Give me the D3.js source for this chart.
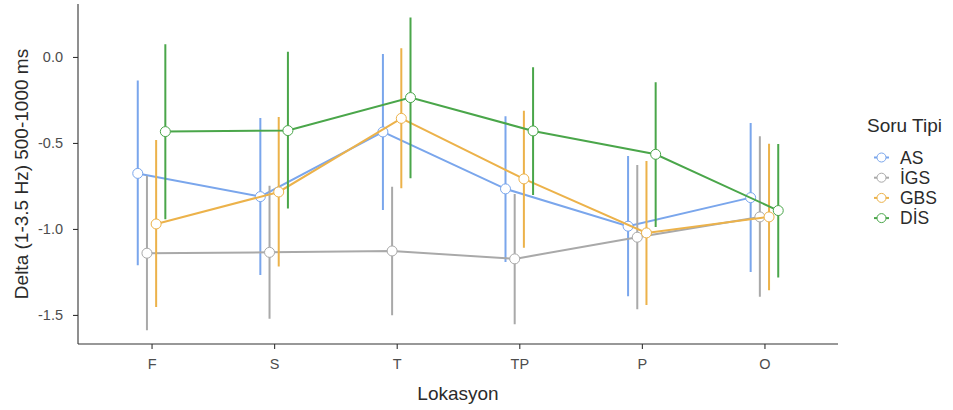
<!DOCTYPE html>
<html>
<head>
<meta charset="utf-8">
<script src="https://cdn.jsdelivr.net/npm/d3@7"></script>
<style>
  body { margin: 0; background: #fff; }
  svg { font-family: "Liberation Sans", Arial, sans-serif; }
</style>
</head>
<body>
<div id="chart"></div>
<script>
const width = 953, height = 410
const margin = {top: 4, right: 115, bottom: 66, left: 78}

const locations = ["F", "S", "T", "TP", "P", "O"]
const groups = ["AS", "İGS", "GBS", "DİS"]
const colors = ["#7aa6ec", "#a9a9a9", "#ecb24a", "#4aa64a"]

// mean per location, one array per group
const as_mean = [-0.677, -0.812, -0.436, -0.767, -0.984, -0.818]
const igs_mean = [-1.141, -1.136, -1.128, -1.174, -1.048, -0.930]
const gbs_mean = [-0.971, -0.785, -0.357, -0.709, -1.023, -0.930]
const dis_mean = [-0.434, -0.428, -0.236, -0.430, -0.566, -0.893]

// error bar top / bottom
const as_hi = [-0.143, -0.360, 0.012, -0.351, -0.581, -0.390]
const as_lo = [-1.205, -1.262, -0.884, -1.186, -1.386, -1.244]
const igs_hi = [-0.696, -0.754, -0.760, -0.802, -0.634, -0.467]
const igs_lo = [-1.583, -1.517, -1.496, -1.548, -1.461, -1.388]
const gbs_hi = [-0.488, -0.355, 0.045, -0.318, -0.610, -0.510]
const gbs_lo = [-1.448, -1.213, -0.758, -1.103, -1.436, -1.351]
const dis_hi = [0.068, 0.025, 0.223, -0.066, -0.153, -0.512]
const dis_lo = [-0.938, -0.876, -0.700, -0.797, -0.983, -1.277]

const yTicks = [0.0, -0.5, -1.0, -1.5]

const means = [as_mean, igs_mean, gbs_mean, dis_mean]
const his = [as_hi, igs_hi, gbs_hi, dis_hi]
const los = [as_lo, igs_lo, gbs_lo, dis_lo]

const series = groups.map((g, gi) => ({
    name: g,
    color: colors[gi],
    values: locations.map((loc, li) => ({
        loc: loc, mean: means[gi][li], hi: his[gi][li], lo: los[gi][li]
    }))
}))

const svg = d3.select("#chart").append("svg")
    .attr("width", width)
    .attr("height", height)

const pw = width - margin.left - margin.right
const ph = height - margin.top - margin.bottom

const x = d3.scalePoint()
    .domain(locations)
    .range([0, pw])
    .padding(0.6)

const dodge = d3.scaleBand()
    .domain(groups)
    .range([-x.step() * 0.15, x.step() * 0.15])

const y = d3.scaleLinear()
    .domain([-1.669, 0.308])
    .range([ph, 0])

const g = svg.append("g")
    .attr("transform", "translate(" + margin.left + "," + margin.top + ")")

const fmt = d3.format(".1f")
const xAxis = g.append("g")
    .attr("transform", "translate(0," + ph + ")")
    .call(d3.axisBottom(x).tickSize(5).tickPadding(10))
const yAxis = g.append("g")
    .call(d3.axisLeft(y).tickValues(yTicks)
        .tickFormat(d => fmt(d).replace("−", "-"))
        .tickSize(5).tickPadding(10))

for (const ax of [xAxis, yAxis]) {
    ax.select(".domain").attr("stroke", "#333").attr("stroke-width", 1.1)
    ax.selectAll(".tick line").attr("stroke", "#333").attr("stroke-width", 1.1)
    ax.selectAll(".tick text").attr("fill", "#4d4d4d").attr("font-size", "14.5px")
}
// axis lines run over the full panel
xAxis.select(".domain").attr("d", "M0,0H" + pw)
yAxis.select(".domain").attr("d", "M0,0V" + ph)

const px = (s, d) => x(d.loc) + dodge(s.name) + dodge.bandwidth() / 2

const layer = g.selectAll(".series")
    .data(series)
    .enter()
    .append("g")
    .attr("class", "series")

// error bars
layer.selectAll(".err")
    .data(s => s.values.map(d => ({s: s, d: d})))
    .enter()
    .append("path")
    .attr("class", "err")
    .attr("fill", "none")
    .attr("stroke", e => e.s.color)
    .attr("stroke-width", 2)
    .attr("d", e => {
        const cx = px(e.s, e.d), c = 1
        return "M" + (cx - c) + "," + y(e.d.hi) + "H" + (cx + c) +
            "M" + cx + "," + y(e.d.hi) + "V" + y(e.d.lo) +
            "M" + (cx - c) + "," + y(e.d.lo) + "H" + (cx + c)
    })

// lines
const line = d3.line()
layer.append("path")
    .attr("fill", "none")
    .attr("stroke", s => s.color)
    .attr("stroke-width", 2)
    .attr("d", s => line(s.values.map(d => [px(s, d), y(d.mean)])))

// points
layer.selectAll("circle")
    .data(s => s.values.map(d => ({s: s, d: d})))
    .enter()
    .append("circle")
    .attr("cx", e => px(e.s, e.d))
    .attr("cy", e => y(e.d.mean))
    .attr("r", 5)
    .attr("fill", "white")
    .attr("stroke", e => e.s.color)
    .attr("stroke-width", 1)

// axis titles
svg.append("text")
    .attr("x", margin.left + pw / 2)
    .attr("y", 400)
    .attr("text-anchor", "middle")
    .attr("font-size", "19px")
    .attr("fill", "#2b2b2b")
    .text("Lokasyon")

svg.append("text")
    .attr("transform", "translate(28," + (margin.top + ph / 2) + ") rotate(-90)")
    .attr("text-anchor", "middle")
    .attr("font-size", "19px")
    .attr("fill", "#2b2b2b")
    .text("Delta (1-3.5 Hz) 500-1000 ms")

// legend
const legend = svg.append("g").attr("transform", "translate(867,0)")
legend.append("text")
    .attr("x", 0)
    .attr("y", 132)
    .attr("font-size", "19px")
    .attr("fill", "#2b2b2b")
    .text("Soru Tipi")

const item = legend.selectAll(".item")
    .data(series)
    .enter()
    .append("g")
    .attr("class", "item")
    .attr("transform", (d, i) => "translate(0," + (157.5 + i * 20.2) + ")")

item.append("line")
    .attr("x1", 7).attr("x2", 22)
    .attr("stroke", d => d.color)
    .attr("stroke-width", 2)
item.append("circle")
    .attr("cx", 14.5).attr("r", 4.5)
    .attr("fill", "white")
    .attr("stroke", d => d.color)
    .attr("stroke-width", 1)
item.append("text")
    .attr("x", 33)
    .attr("y", 6.3)
    .attr("font-size", "17.5px")
    .attr("fill", "#2b2b2b")
    .text(d => d.name)
</script>
</body>
</html>
